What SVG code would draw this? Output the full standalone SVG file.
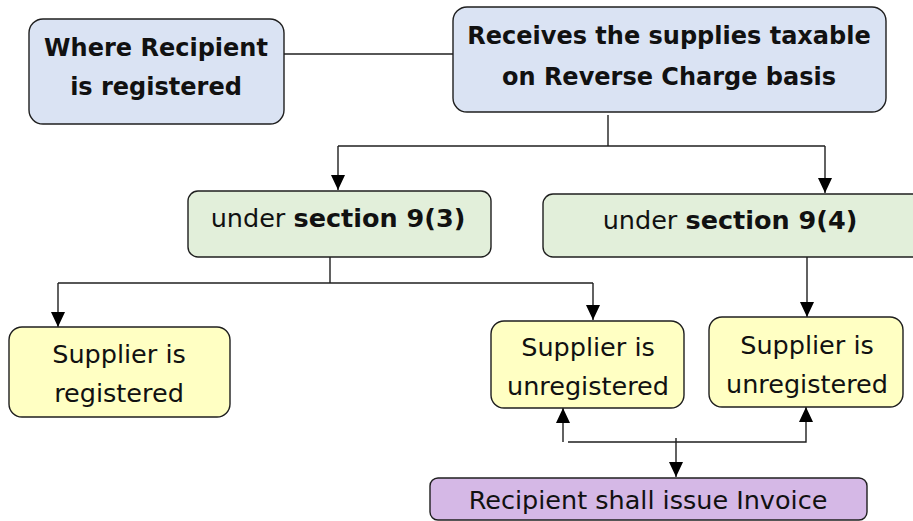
<svg xmlns="http://www.w3.org/2000/svg" width="913" height="521" viewBox="0 0 913 521">
<style>
.box{stroke:#1f1f1f;stroke-width:1.4}
.blue{fill:#dae3f3}
.green{fill:#e2efda}
.yellow{fill:#ffffc3}
.purple{fill:#d5b8e6}
text{font-family:"DejaVu Sans","Open Sans",sans-serif;font-size:25.5px;fill:#111;text-anchor:middle}
.b{font-weight:700}
.h{font-size:24px}
.conn{fill:none;stroke:#1f1f1f;stroke-width:1.4}
</style>
<defs>
<marker id="arr" viewBox="0 0 15 14" refX="15" refY="7" markerWidth="15" markerHeight="14" markerUnits="userSpaceOnUse" orient="auto">
<path d="M0,0 L15,7 L0,14 Z" fill="#000"/>
</marker>
</defs>
<g id="connectors">
<path class="conn" d="M284,54 H455"/>
<path class="conn" d="M608,115 V146"/>
<path class="conn" d="M338,146 H825"/>
<path class="conn" d="M338,146 V190" marker-end="url(#arr)"/>
<path class="conn" d="M825,146 V193" marker-end="url(#arr)"/>
<path class="conn" d="M330,257 V283"/>
<path class="conn" d="M58,283 H593"/>
<path class="conn" d="M58,283 V327" marker-end="url(#arr)"/>
<path class="conn" d="M593,283 V320" marker-end="url(#arr)"/>
<path class="conn" d="M807,257 V317" marker-end="url(#arr)"/>
<path class="conn" d="M563,442 V408" marker-end="url(#arr)"/>
<path class="conn" d="M568,442 H806 V407" marker-end="url(#arr)"/>
<path class="conn" d="M676,438 V477" marker-end="url(#arr)"/>
</g>
<g id="n-recipient">
<rect class="box blue" x="29" y="19" width="255" height="105" rx="14"/>
<text class="b h" x="156" y="56">Where Recipient</text>
<text class="b h" x="156" y="95">is registered</text>
</g>
<g id="n-receives">
<rect class="box blue" x="453" y="7" width="433" height="105" rx="14"/>
<text class="b h" x="669" y="44">Receives the supplies taxable</text>
<text class="b h" x="669" y="85">on Reverse Charge basis</text>
</g>
<g id="n-s93">
<rect class="box green" x="188" y="191" width="303" height="66" rx="10"/>
<text x="338" y="227">under <tspan class="b">section 9(3)</tspan></text>
</g>
<g id="n-s94">
<rect class="box green" x="543" y="194" width="380" height="63" rx="10"/>
<text x="730" y="229">under <tspan class="b">section 9(4)</tspan></text>
</g>
<g id="n-registered">
<rect class="box yellow" x="9" y="327" width="221" height="90" rx="13"/>
<text x="119" y="363">Supplier is</text>
<text x="119" y="402">registered</text>
</g>
<g id="n-unreg1">
<rect class="box yellow" x="491" y="321" width="193" height="87" rx="13"/>
<text x="588" y="356">Supplier is</text>
<text x="588" y="395">unregistered</text>
</g>
<g id="n-unreg2">
<rect class="box yellow" x="709" y="317" width="194" height="90" rx="13"/>
<text x="807" y="354">Supplier is</text>
<text x="807" y="393">unregistered</text>
</g>
<g id="n-invoice">
<rect class="box purple" x="430" y="478" width="437" height="42" rx="8"/>
<text x="648" y="509">Recipient shall issue Invoice</text>
</g>
</svg>
